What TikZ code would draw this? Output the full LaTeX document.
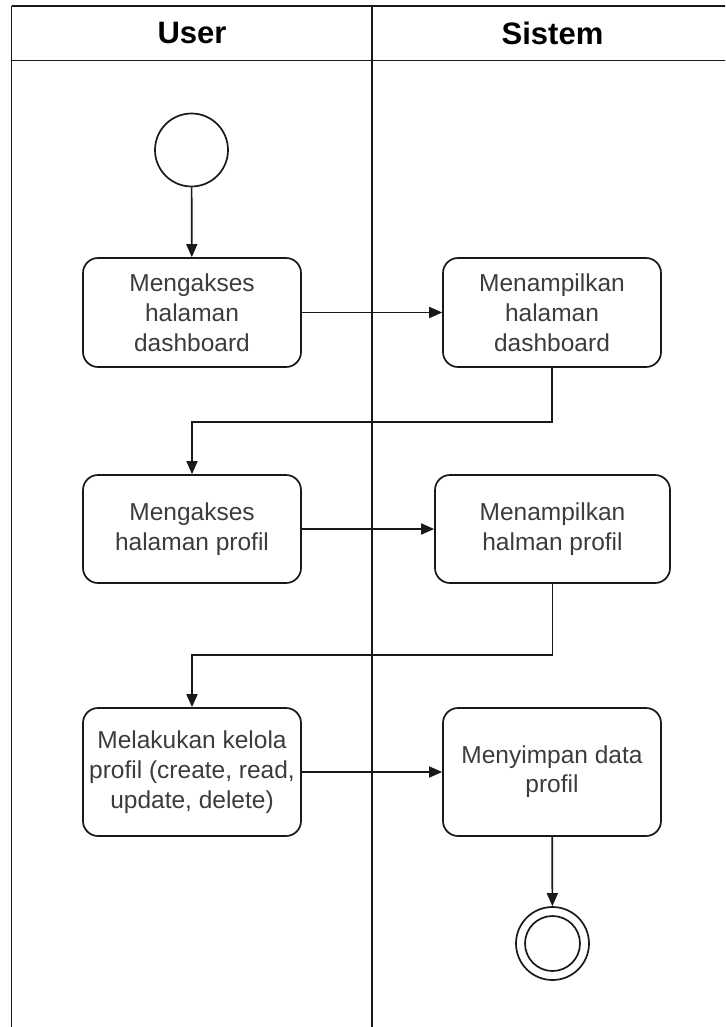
\documentclass[tikz,border=0pt]{standalone}
\usepackage{fontspec}
\setmainfont{Liberation Sans}
\usetikzlibrary{arrows.meta}
\definecolor{txt}{RGB}{60,60,60}
\definecolor{ink}{RGB}{25,25,25}
\begin{document}
\begin{tikzpicture}[x=1pt,y=-1pt,
  line width=1.7pt,
  lane/.style={draw=ink},
  lanehead/.style={font=\fontsize{31}{36}\selectfont\bfseries, text=black},
  act/.style={draw=ink, rounded corners=15pt, align=center, inner sep=0pt,
    text=txt, font=\fontsize{24.5}{30}\selectfont},
  startnode/.style={draw=ink, circle, minimum size=73pt, inner sep=0pt},
  flow/.style={draw=ink, -{Triangle[length=13pt,width=11pt]}}]
\useasboundingbox (0,0) rectangle (725,1027);
\clip (0,0) rectangle (725,1027);

% swimlane frame
\draw[lane] (11.5,6) -- (735,6);
\draw[lane] (11.5,60.5) -- (735,60.5);
\draw[lane] (11.5,6) -- (11.5,1040);
\draw[lane] (372.3,6) -- (372.3,1040);
\draw[lane] (733.5,6) -- (733.5,1040);
\node[lanehead] (hUser) at (192,33) {User};
\node[lanehead] (hSistem) at (552.5,33) {Sistem};

% activities
\node[startnode] (start) at (191.5,150) {};
\node[act, minimum width=218pt, minimum height=109pt] (b1) at (192,312.5)
  {Mengakses\\halaman\\dashboard};
\node[act, minimum width=218pt, minimum height=109pt] (b2) at (552,312.5)
  {Menampilkan\\halaman\\dashboard};
\node[act, minimum width=218pt, minimum height=108pt] (b3) at (192,529)
  {Mengakses\\halaman profil};
\node[act, minimum width=235pt, minimum height=108pt] (b4) at (552.5,529)
  {Menampilkan\\halman profil};
\node[act, minimum width=218pt, minimum height=128pt] (b5) at (192,772)
  {Melakukan kelola\\profil (create, read,\\update, delete)};
\node[act, minimum width=218pt, minimum height=128pt] (b6) at (552,772)
  {\raisebox{-4pt}{\begin{tabular}{@{}c@{}}Menyimpan data\\[-1pt]profil\end{tabular}}};
\node[startnode] (end) at (552.5,943.5) {};
\draw[ink] (end.center) circle (27.5);

% control flow
\draw[flow] (start) -- (b1);
\draw[flow] (b1) -- (b2);
\draw[flow] (b2.south) -- ++(0,54) -| (b3.north);
\draw[flow] (b3) -- (b4);
\draw[flow] (b4.south) -- ++(0,71) -| (b5.north);
\draw[flow] (b5) -- (b6);
\draw[flow] (b6) -- (end);
\end{tikzpicture}
\end{document}
